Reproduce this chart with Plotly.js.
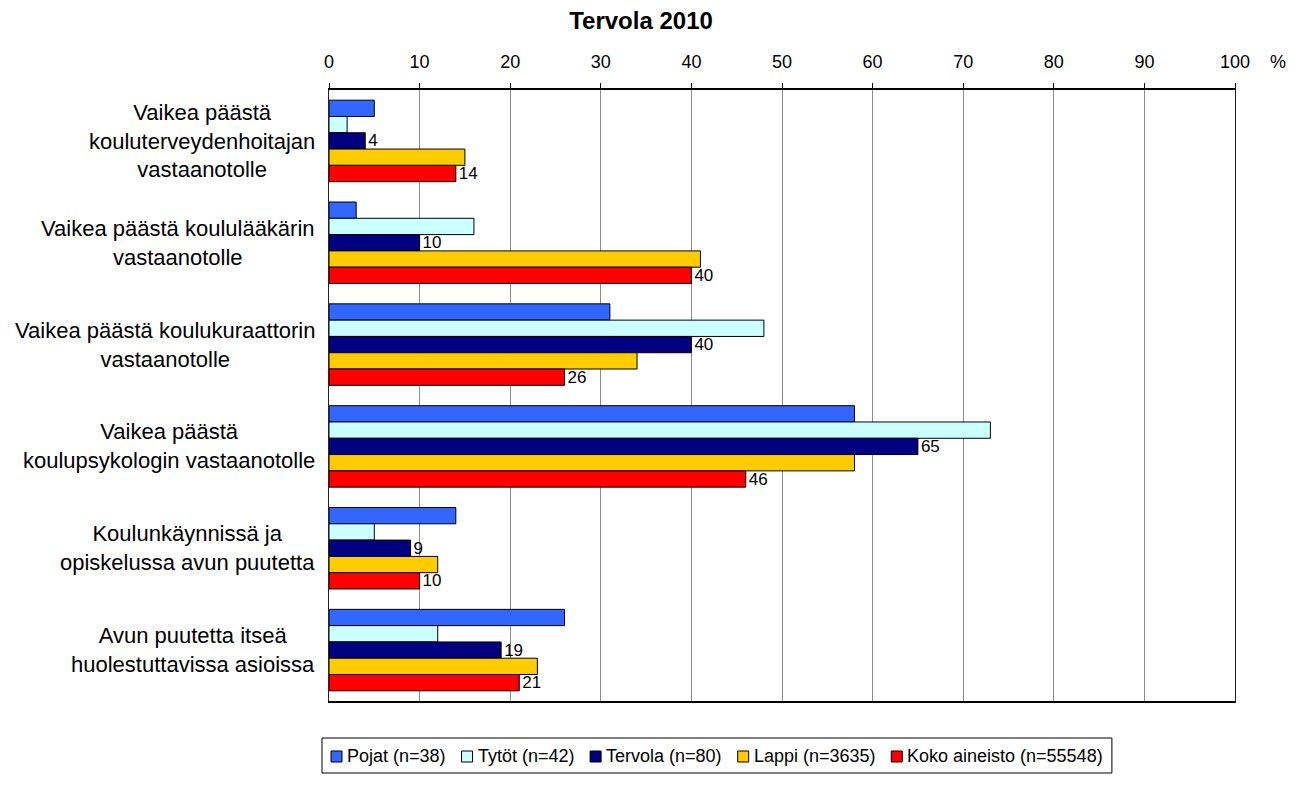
<!DOCTYPE html>
<html>
<head>
<meta charset="utf-8">
<script src="https://cdn.plot.ly/plotly-3.0.1.min.js"></script>
<style>html,body{margin:0;padding:0;background:#fff;}#chart{width:1302px;height:787px;}</style>
</head>
<body>
<div id="chart"></div>
<script>
const categories = [
  "Vaikea päästä<br>kouluterveydenhoitajan<br>vastaanotolle",
  "Vaikea päästä koululääkärin<br>vastaanotolle",
  "Vaikea päästä koulukuraattorin<br>vastaanotolle",
  "Vaikea päästä<br>koulupsykologin vastaanotolle",
  "Koulunkäynnissä ja<br>opiskelussa avun puutetta",
  "Avun puutetta itseä<br>huolestuttavissa asioissa"
];
const seriesNames = ["Pojat (n=38)", "Tytöt (n=42)", "Tervola (n=80)", "Lappi (n=3635)", "Koko aineisto (n=55548)"];
const pojat   = [5, 3, 31, 58, 14, 26];
const tytot   = [2, 16, 48, 73, 5, 12];
const tervola = [4, 10, 40, 65, 9, 19];
const lappi   = [15, 41, 34, 58, 12, 23];
const koko    = [14, 40, 26, 46, 10, 21];
const tickVals = [0,10,20,30,40,50,60,70,80,90,100];

const colors = ["#3366FF", "#CCFFFF", "#000080", "#FFCC00", "#FF0000"];
const values = [pojat, tytot, tervola, lappi, koko];
const showLabels = [false, false, true, false, true];
const fontFam = "Arial, 'Liberation Sans', sans-serif";

// plot box in pixels
const W = 1302, H = 787, L = 329, R = 1235, T = 90, B = 701;
const px = x => (x - L) / (R - L);
const py = y => (B - y) / (B - T);

const traces = values.map((v, i) => ({
  type: "bar",
  orientation: "h",
  name: seriesNames[i],
  x: v,
  y: categories,
  marker: {color: colors[i], line: {color: "#000", width: 1}},
  text: showLabels[i] ? v.map(String) : undefined,
  textposition: showLabels[i] ? "outside" : "none",
  constraintext: "none",
  textfont: {family: fontFam, size: 17, color: "#000"},
  cliponaxis: false,
  showlegend: false
}));

const annotations = categories.map(c => ({
  xref: "paper", yref: "y", x: px(317), y: c,
  xanchor: "right", yanchor: "middle", align: "center",
  text: c, showarrow: false,
  font: {family: fontFam, size: 22, color: "#000"}
}));
annotations.push({
  xref: "paper", yref: "paper", x: px(1278), y: py(62),
  xanchor: "center", yanchor: "middle", text: "%", showarrow: false,
  font: {family: fontFam, size: 18, color: "#000"}
});

// custom legend (boxed row of squares + labels)
const shapes = [];
const legFont = 18;
const canvas = document.createElement("canvas");
const ctx = canvas.getContext("2d");
ctx.font = legFont + "px Arial, 'Liberation Sans', sans-serif";
const sq = 11, sqGap = 5, itemGap = 16, pad = 9;
const legLeft = 322, legTop = 738, legBot = 773, legMid = (legTop + legBot) / 2;
let cx = legLeft + pad;
seriesNames.forEach((n, i) => {
  shapes.push({type: "rect", xref: "paper", yref: "paper",
    x0: px(cx), x1: px(cx + sq), y0: py(legMid + sq / 2 + 1), y1: py(legMid - sq / 2 + 1),
    fillcolor: colors[i], line: {color: "#000", width: 1}});
  cx += sq + sqGap;
  annotations.push({xref: "paper", yref: "paper", x: px(cx - 2), y: py(legMid),
    xanchor: "left", yanchor: "middle", text: n, showarrow: false,
    font: {family: fontFam, size: legFont, color: "#000"}});
  cx += ctx.measureText(n).width + (i < seriesNames.length - 1 ? itemGap : pad);
});
shapes.push({type: "rect", xref: "paper", yref: "paper",
  x0: px(legLeft), x1: px(cx), y0: py(legBot), y1: py(legTop),
  line: {color: "#000", width: 1}, fillcolor: "rgba(0,0,0,0)"});

const layout = {
  width: W, height: H,
  margin: {l: L, r: W - R, t: T, b: H - B},
  paper_bgcolor: "#fff", plot_bgcolor: "#fff",
  title: {text: "<b>Tervola 2010</b>", x: 641 / W, xanchor: "center", y: 1 - 21 / H, yanchor: "middle",
          font: {family: fontFam, size: 24, color: "#000"}},
  barmode: "group", bargap: 0.2, bargroupgap: 0,
  xaxis: {
    side: "top", range: [0, 100], tickvals: tickVals, ticktext: tickVals.map(String),
    ticks: "outside", ticklen: 5, tickcolor: "#000", tickwidth: 1, ticklabelstandoff: 8,
    showline: true, linecolor: "#000", linewidth: 2, mirror: true,
    showgrid: true, gridcolor: "#8c8c8c", gridwidth: 1, zeroline: false,
    tickfont: {family: fontFam, size: 18, color: "#000"}, fixedrange: true
  },
  yaxis: {
    autorange: "reversed", showticklabels: false, ticks: "",
    showline: true, linecolor: "#222", linewidth: 1, mirror: true,
    showgrid: false, zeroline: false, fixedrange: true
  },
  showlegend: false,
  annotations: annotations,
  shapes: shapes
};

Plotly.newPlot("chart", traces, layout, {displayModeBar: false, staticPlot: true});
</script>
</body>
</html>
